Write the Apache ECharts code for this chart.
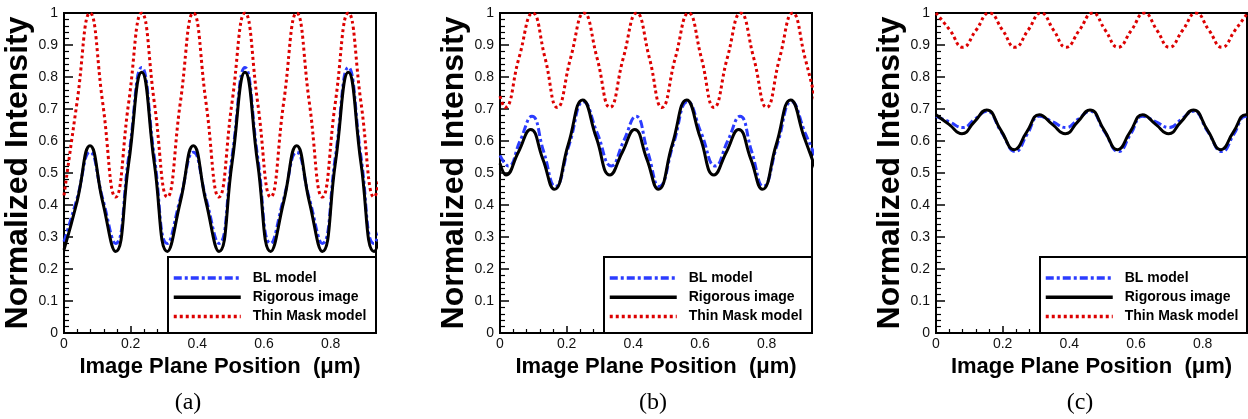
<!DOCTYPE html>
<html>
<head>
<meta charset="utf-8">
<script src="https://cdn.jsdelivr.net/npm/echarts@6/dist/echarts.min.js"></script>
<style>
    html, body { margin: 0; padding: 0; background: #fff; }
    #chart { width: 1248px; height: 419px; }
</style>
</head>
<body>
<div id="chart"></div>
<script>
    // 数据, 每个点是 [位置 um, 归一化强度]
    var seriesNames = ['BL model', 'Rigorous image', 'Thin Mask model'];
    var panelLabels = ['(a)', '(b)', '(c)'];
    var xTickLabels = ['0', '0.2', '0.4', '0.6', '0.8'];
    var yTickLabels = ['0', '0.1', '0.2', '0.3', '0.4', '0.5', '0.6', '0.7', '0.8', '0.9', '1'];

    // (a)
    var blueA = [[0,0.285],[0.039,0.42],[0.078,0.565],[0.116,0.42],[0.155,0.28],[0.194,0.55],[0.233,0.83],[0.271,0.55],[0.31,0.28],[0.349,0.42],[0.388,0.565],[0.426,0.42],[0.465,0.28],[0.504,0.55],[0.543,0.83],[0.581,0.55],[0.62,0.28],[0.659,0.42],[0.698,0.565],[0.736,0.42],[0.775,0.28],[0.814,0.55],[0.853,0.83],[0.891,0.55],[0.93,0.28],[0.969,0.42]];
    var blackA = [[0,0.26],[0.039,0.41],[0.078,0.585],[0.116,0.41],[0.155,0.255],[0.194,0.53],[0.233,0.815],[0.271,0.53],[0.31,0.255],[0.349,0.41],[0.388,0.585],[0.426,0.41],[0.465,0.255],[0.504,0.53],[0.543,0.815],[0.581,0.53],[0.62,0.255],[0.659,0.41],[0.698,0.585],[0.736,0.41],[0.775,0.255],[0.814,0.53],[0.853,0.815],[0.891,0.53],[0.93,0.255],[0.969,0.41]];
    var redA = [[0,0.43],[0.039,0.72],[0.078,1],[0.116,0.72],[0.155,0.425],[0.194,0.72],[0.233,1],[0.271,0.72],[0.31,0.425],[0.349,0.72],[0.388,1],[0.426,0.72],[0.465,0.425],[0.504,0.72],[0.543,1],[0.581,0.72],[0.62,0.425],[0.659,0.72],[0.698,1],[0.736,0.72],[0.775,0.425],[0.814,0.72],[0.853,1],[0.891,0.72],[0.93,0.425],[0.969,0.72]];

    // (b)
    var blueB = [[0,0.555],[0.025,0.522],[0.06,0.6],[0.096,0.677],[0.131,0.567],[0.166,0.458],[0.208,0.59],[0.251,0.723],[0.292,0.624],[0.334,0.522],[0.371,0.6],[0.408,0.677],[0.443,0.567],[0.478,0.458],[0.52,0.59],[0.563,0.723],[0.604,0.624],[0.646,0.522],[0.683,0.6],[0.72,0.677],[0.755,0.567],[0.79,0.458],[0.832,0.59],[0.875,0.723],[0.916,0.624],[0.958,0.522]];
    var blackB = [[0,0.53],[0.018,0.494],[0.055,0.565],[0.092,0.636],[0.128,0.545],[0.163,0.449],[0.205,0.59],[0.248,0.728],[0.289,0.61],[0.33,0.494],[0.367,0.565],[0.404,0.636],[0.44,0.545],[0.475,0.449],[0.517,0.59],[0.56,0.728],[0.601,0.61],[0.642,0.494],[0.679,0.565],[0.716,0.636],[0.752,0.545],[0.787,0.449],[0.829,0.59],[0.872,0.728],[0.913,0.61],[0.954,0.494]];
    var redB = [[0,0.74],[0.015,0.705],[0.057,0.86],[0.098,1],[0.135,0.86],[0.172,0.705],[0.212,0.86],[0.252,1],[0.291,0.86],[0.33,0.705],[0.37,0.86],[0.41,1],[0.448,0.86],[0.486,0.705],[0.526,0.86],[0.566,1],[0.604,0.86],[0.642,0.705],[0.682,0.86],[0.722,1],[0.761,0.86],[0.8,0.705],[0.839,0.86],[0.878,1],[0.915,0.86],[0.952,0.705]];

    // (c)
    var blueC = [[0,0.677],[0.04,0.66],[0.08,0.642],[0.116,0.668],[0.152,0.693],[0.195,0.63],[0.238,0.567],[0.274,0.622],[0.31,0.677],[0.35,0.66],[0.39,0.642],[0.426,0.668],[0.462,0.693],[0.505,0.63],[0.548,0.567],[0.584,0.622],[0.62,0.677],[0.66,0.66],[0.7,0.642],[0.736,0.668],[0.772,0.693],[0.815,0.63],[0.858,0.567],[0.894,0.622],[0.93,0.677],[0.97,0.66]];
    var blackC = [[0,0.682],[0.039,0.652],[0.078,0.623],[0.115,0.66],[0.152,0.697],[0.194,0.635],[0.235,0.573],[0.272,0.628],[0.31,0.682],[0.349,0.652],[0.388,0.623],[0.425,0.66],[0.462,0.697],[0.504,0.635],[0.545,0.573],[0.582,0.628],[0.62,0.682],[0.659,0.652],[0.698,0.623],[0.735,0.66],[0.772,0.697],[0.814,0.635],[0.855,0.573],[0.892,0.628],[0.93,0.682],[0.969,0.652]];
    var redC = [[0,1],[0.042,0.946],[0.08,0.893],[0.12,0.946],[0.16,1],[0.2,0.946],[0.237,0.893],[0.276,0.946],[0.315,1],[0.353,0.946],[0.39,0.893],[0.43,0.946],[0.47,1],[0.508,0.946],[0.546,0.893],[0.586,0.946],[0.625,1],[0.663,0.946],[0.7,0.893],[0.74,0.946],[0.78,1],[0.819,0.946],[0.858,0.893],[0.897,0.946],[0.935,1]];

    var panelData = [[blueA, blackA, redA], [blueB, blackB, redB], [blueC, blackC, redC]];

    // 布局
    var gridLeft = [64, 500, 936];
    var gridWidth = [312, 312, 311];
    var xMax = [0.936, 0.936, 0.933];
    var legendBoxLeft = [168, 604, 1040];
    var captionX = [188, 653, 1080];

    var font = 'Liberation Sans, Arial, sans-serif';
    var lineStyles = [
        { color: '#2b3cff', width: 3, type: [8, 3, 3, 3] },
        { color: '#000000', width: 3, type: 'solid' },
        { color: '#dd0000', width: 3, type: [3, 3] }
    ];

    var grids = [], xAxes = [], yAxes = [], series = [], legends = [], graphics = [];

    for (var p = 0; p < 3; p++) {
        grids.push({
            left: gridLeft[p], top: 13, width: gridWidth[p], height: 320,
            show: true, borderColor: '#000', borderWidth: 2, backgroundColor: 'transparent'
        });
        xAxes.push({
            type: 'value', gridIndex: p, min: 0, max: xMax[p], interval: 0.2,
            name: 'Image Plane Position  (\u03bcm)', nameLocation: 'middle', nameGap: 22,
            nameTextStyle: { fontFamily: font, fontWeight: 'bold', fontSize: 22, color: '#000' },
            axisLine: { lineStyle: { color: '#000', width: 2 } },
            axisTick: { inside: true, length: 7, lineStyle: { color: '#000', width: 1.5 } },
            minorTick: { show: true, splitNumber: 5, length: 4, lineStyle: { color: '#000', width: 1.2 } },
            splitLine: { show: false },
            axisLabel: {
                fontFamily: font, fontSize: 14, color: '#111', margin: 4, showMaxLabel: false,
                formatter: function (v) {
                    var i = Math.round(v / 0.2);
                    return xTickLabels[i] !== undefined ? xTickLabels[i] : '';
                }
            }
        });
        yAxes.push({
            type: 'value', gridIndex: p, min: 0, max: 1, interval: 0.1,
            name: 'Normalized Intensity', nameLocation: 'middle', nameGap: 20,
            nameTextStyle: { fontFamily: font, fontWeight: 'bold', fontSize: 32, color: '#000' },
            axisLine: { lineStyle: { color: '#000', width: 2 } },
            axisTick: { inside: true, length: 9, lineStyle: { color: '#000', width: 1.5 } },
            minorTick: { show: true, splitNumber: 5, length: 5, lineStyle: { color: '#000', width: 1.2 } },
            splitLine: { show: false },
            axisLabel: {
                fontFamily: font, fontSize: 14, color: '#111', margin: 6,
                formatter: function (v) { return yTickLabels[Math.round(v * 10)]; }
            }
        });
        for (var s = 0; s < 3; s++) {
            series.push({
                name: seriesNames[s], type: 'line', xAxisIndex: p, yAxisIndex: p,
                data: panelData[p][s], smooth: true, symbol: 'none', clip: true,
                lineStyle: lineStyles[s], itemStyle: { color: lineStyles[s].color },
                z: 2 + s * 0.01
            });
        }
        // 图例框
        graphics.push({
            type: 'rect', z: 3,
            shape: { x: legendBoxLeft[p], y: 257, width: gridLeft[p] + gridWidth[p] - legendBoxLeft[p], height: 76 },
            style: { fill: '#fff', stroke: '#000', lineWidth: 2 }
        });
        legends.push({
            data: seriesNames, orient: 'vertical', left: legendBoxLeft[p] + 4, top: 271,
            itemWidth: 67, itemHeight: 14, itemGap: 5.3, padding: 0, z: 5,
            itemStyle: { color: 'rgba(0,0,0,0)', borderWidth: 0, opacity: 0 },
            lineStyle: { width: 3.5 },
            textStyle: { fontFamily: font, fontWeight: 'bold', fontSize: 14, color: '#000', padding: [0, 0, 0, 7] }
        });
        graphics.push({
            type: 'text', z: 5, x: captionX[p], y: 403,
            style: { text: panelLabels[p], font: '24px "Liberation Serif", serif', fill: '#000', align: 'center', verticalAlign: 'middle' }
        });
    }

    var myChart = echarts.init(document.getElementById('chart'));
    myChart.setOption({
        animation: false,
        grid: grids,
        xAxis: xAxes,
        yAxis: yAxes,
        legend: legends,
        graphic: graphics,
        series: series
    });
</script>
</body>
</html>
